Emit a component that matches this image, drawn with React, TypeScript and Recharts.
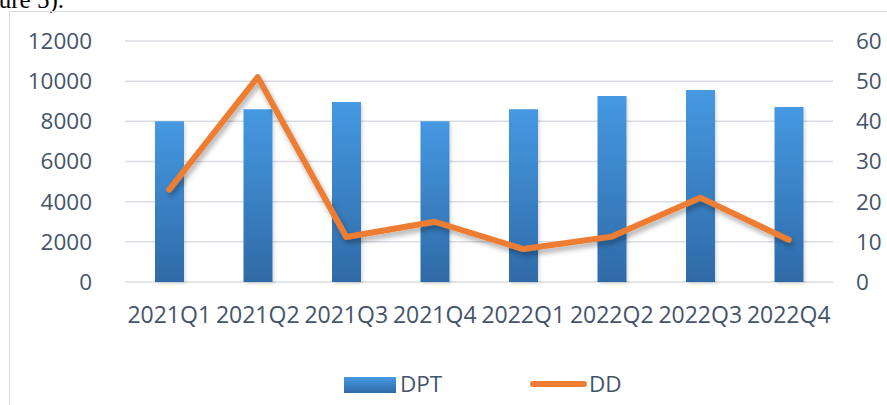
import React from "react";
import { ComposedChart, Bar, Line, XAxis, YAxis, CartesianGrid } from "recharts";

const quarters = ["2021Q1", "2021Q2", "2021Q3", "2021Q4", "2022Q1", "2022Q2", "2022Q3", "2022Q4"];
const dptValues = [8000, 8600, 8960, 8000, 8600, 9260, 9560, 8710];
const ddValues = [23, 51, 11.2, 15, 8.2, 11.3, 21, 10.5];
const leftTicks = [0, 2000, 4000, 6000, 8000, 10000, 12000];
const rightTicks = [0, 10, 20, 30, 40, 50, 60];

const data = quarters.map((q, i) => ({ quarter: q, DPT: dptValues[i], DD: ddValues[i] }));

const textColor = "#44546A";
const font = "'Open Sans', sans-serif";

export default function App() {
  return (
    <div style={{ position: "absolute", left: 0, top: 0, width: 887, height: 405, overflow: "hidden", background: "#fff" }}>
      {/* bit of the page caption above the chart */}
      <div
        style={{
          position: "absolute",
          left: 64,
          top: -12,
          transform: "translateX(-100%)",
          fontFamily: "'Liberation Serif', serif",
          fontSize: 25,
          lineHeight: "24px",
          whiteSpace: "nowrap",
          color: "#000",
        }}>
        (Figure 5).
      </div>
      {/* chart frame */}
      <div
        style={{
          position: "absolute",
          left: 9,
          top: 11,
          width: 920,
          height: 420,
          border: "1px solid #d6dae0",
        }}
      />
      <div style={{ position: "absolute", left: 0, top: 0 }}>
        <ComposedChart
          width={887}
          height={405}
          data={data}
          margin={{ top: 41, right: 0, left: 0, bottom: 73 }}
          style={{ fontFamily: font }}>
          <defs>
            <linearGradient id="barFill" x1="0" y1="0" x2="0" y2="1">
              <stop offset="0%" stopColor="#4599e2" />
              <stop offset="100%" stopColor="#2f6aa7" />
            </linearGradient>
            <filter id="barShadow" x="-30%" y="-10%" width="160%" height="120%">
              <feDropShadow dx="2" dy="2" stdDeviation="1.5" floodColor="#000" floodOpacity="0.12" />
            </filter>
            <filter id="lineShadow" x="-10%" y="-20%" width="120%" height="140%">
              <feDropShadow dx="2" dy="4" stdDeviation="2.5" floodColor="#000" floodOpacity="0.3" />
            </filter>
          </defs>
          <CartesianGrid vertical={false} stroke="#d9dce1" strokeWidth={1.5} yAxisId="left" />
          <XAxis
            dataKey="quarter"
            axisLine={false}
            tickLine={false}
            height={50}
            tickMargin={19}
            interval={0}
            tick={{ fill: textColor, fontSize: 23, fontFamily: font }}
          />
          <YAxis
            yAxisId="left"
            domain={[0, 12000]}
            ticks={leftTicks}
            width={125}
            axisLine={false}
            tickLine={false}
            tickMargin={27}
            tick={{ fill: textColor, fontSize: 22.5, fontFamily: font }}
          />
          <YAxis
            yAxisId="right"
            orientation="right"
            domain={[0, 60]}
            ticks={rightTicks}
            width={54}
            axisLine={false}
            tickLine={false}
            tickMargin={17}
            tick={{ fill: textColor, fontSize: 22.5, fontFamily: font, textAnchor: "start" }}
          />
          <Bar
            yAxisId="left"
            dataKey="DPT"
            fill="url(#barFill)"
            barSize={29}
            filter="url(#barShadow)"
            isAnimationActive={false}
          />
          <Line
            yAxisId="right"
            dataKey="DD"
            type="linear"
            stroke="#ED7D31"
            strokeWidth={6}
            strokeLinecap="round"
            strokeLinejoin="round"
            dot={false}
            activeDot={false}
            filter="url(#lineShadow)"
            isAnimationActive={false}
          />
        </ComposedChart>
      </div>
      {/* legend */}
      <div style={{ position: "absolute", left: 344, top: 377, width: 52, height: 16, background: "linear-gradient(#4599e2, #2f6aa7)" }} />
      <div style={{ position: "absolute", left: 400, top: 369, fontFamily: font, fontSize: 22.5, lineHeight: "30px", color: textColor }}>DPT</div>
      <div style={{ position: "absolute", left: 530, top: 381, width: 57, height: 6, borderRadius: 3, background: "#ED7D31" }} />
      <div style={{ position: "absolute", left: 589, top: 369, fontFamily: font, fontSize: 22.5, lineHeight: "30px", color: textColor }}>DD</div>
    </div>
  );
}
